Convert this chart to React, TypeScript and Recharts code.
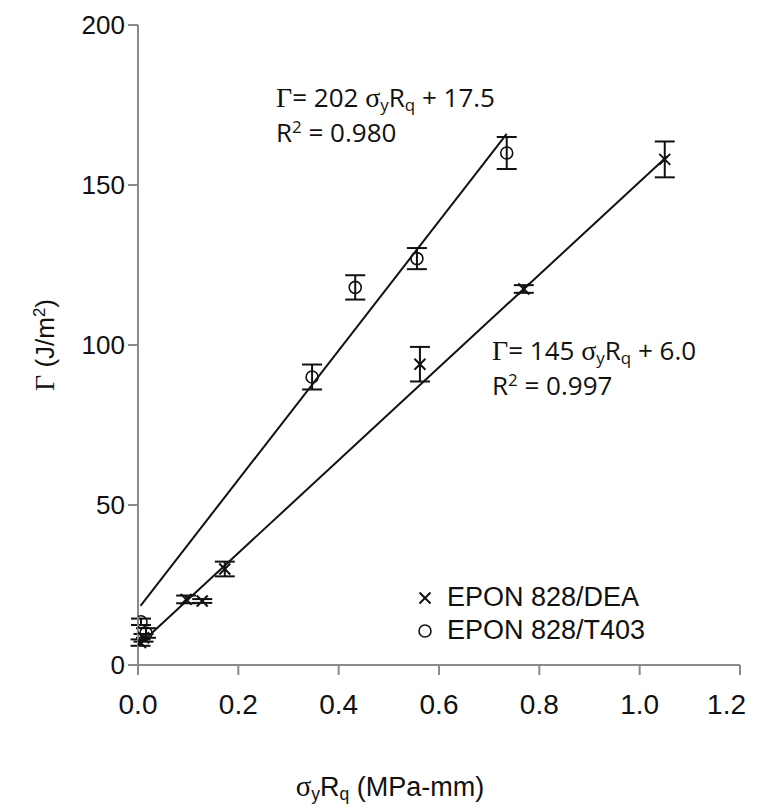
import React from "react";
import {
  ComposedChart,
  Scatter,
  XAxis,
  YAxis,
  ErrorBar,
  ReferenceLine,
} from "recharts";

// EPON 828/DEA (x markers)
const deaX = [0.005, 0.011, 0.096, 0.128, 0.173, 0.562, 0.769, 1.05];
const deaY = [7, 8.5, 20.5, 20, 30, 94, 117.5, 158];
const deaErr = [1, 1.2, 1.2, 0.6, 2.3, 5.4, 1.2, 5.6];

// EPON 828/T403 (open circles)
const t403X = [0.006, 0.016, 0.347, 0.433, 0.556, 0.735];
const t403Y = [13.5, 10, 90, 118, 127, 160];
const t403Err = [1, 1.5, 3.9, 3.8, 3.3, 5];

// linear fits: slope, intercept, x range
const deaFit = { slope: 145, intercept: 6.0, from: 0.005, to: 1.055 };
const t403Fit = { slope: 202, intercept: 17.5, from: 0.005, to: 0.735 };

const xTicks = [0, 0.2, 0.4, 0.6, 0.8, 1.0, 1.2];
const yTicks = [0, 50, 100, 150, 200];

const deaData = deaX.map((x, i) => ({ x, y: deaY[i], err: deaErr[i] }));
const t403Data = t403X.map((x, i) => ({ x, y: t403Y[i], err: t403Err[i] }));

const fitSegment = (f: typeof deaFit) => [
  { x: f.from, y: f.slope * f.from + f.intercept },
  { x: f.to, y: f.slope * f.to + f.intercept },
];

const AXIS = "#8a8a8a";
const SANS = "'Liberation Sans', Arial, sans-serif";
const CAL = "'Open Sans', 'Noto Sans', sans-serif";
const SERIF = "'Liberation Serif', 'Times New Roman', serif";

const Cross = (p: any) => {
  const s = 5.5;
  return (
    <g stroke="#111" strokeWidth={2}>
      <line x1={p.cx - s} y1={p.cy - s} x2={p.cx + s} y2={p.cy + s} />
      <line x1={p.cx - s} y1={p.cy + s} x2={p.cx + s} y2={p.cy - s} />
    </g>
  );
};

const Ring = (p: any) => (
  <circle cx={p.cx} cy={p.cy} r={6} fill="none" stroke="#111" strokeWidth={1.6} />
);

// last label is pulled inward so it stays inside the frame
const XTick = (p: any) => {
  const last = p.payload.value === xTicks[xTicks.length - 1];
  return (
    <text
      x={last ? p.x + 6 : p.x}
      y={p.y}
      dy="0.71em"
      textAnchor={last ? "end" : "middle"}
      fill="#111"
      fontSize={28}
      fontFamily={SANS}
    >
      {p.payload.value.toFixed(1)}
    </text>
  );
};

const sub = { fontSize: "0.65em", verticalAlign: "-0.25em", lineHeight: 1 } as const;
const sup = { fontSize: "0.65em", verticalAlign: "0.55em", lineHeight: 1 } as const;

function Equation({ slope, intercept, r2, left, top }: any) {
  return (
    <div
      style={{
        position: "absolute",
        left,
        top,
        fontFamily: CAL,
        fontSize: 26,
        color: "#111",
        whiteSpace: "nowrap",
      }}
    >
      <div style={{ height: 35, lineHeight: "35px" }}>
        <span style={{ fontFamily: SERIF, fontSize: 28 }}>Γ</span>= {slope}{" "}
        <span style={{ fontFamily: SERIF, fontSize: 28 }}>σ</span>
        <span style={sub}>y</span>R<span style={sub}>q</span> + {intercept}
      </div>
      <div style={{ height: 35, lineHeight: "35px" }}>
        R<span style={sup}>2</span> = {r2}
      </div>
    </div>
  );
}

export default function App() {
  return (
    <div style={{ position: "relative", width: 745, height: 801 }}>
      <ComposedChart
        width={745}
        height={740}
        margin={{ top: 17, right: 13, bottom: 23, left: 70 }}
      >
        <XAxis
          type="number"
          dataKey="x"
          domain={[0, 1.2]}
          ticks={xTicks}
          height={60}
          stroke={AXIS}
          strokeWidth={2}
          tickSize={10}
          tickMargin={19}
          tick={XTick}
          allowDataOverflow
        />
        <YAxis
          type="number"
          dataKey="y"
          domain={[0, 200]}
          ticks={yTicks}
          width={60}
          stroke={AXIS}
          strokeWidth={2}
          tickSize={10}
          tickMargin={3}
          tick={{ fill: "#111", fontSize: 26, fontFamily: SANS }}
        />
        <ReferenceLine
          segment={fitSegment(t403Fit)}
          stroke="#111"
          strokeWidth={2}
          ifOverflow="visible"
        />
        <ReferenceLine
          segment={fitSegment(deaFit)}
          stroke="#111"
          strokeWidth={2}
          ifOverflow="visible"
        />
        <Scatter data={deaData} shape={Cross} isAnimationActive={false}>
          <ErrorBar dataKey="err" direction="y" width={10} stroke="#111" strokeWidth={2} />
        </Scatter>
        <Scatter data={t403Data} shape={Ring} isAnimationActive={false}>
          <ErrorBar dataKey="err" direction="y" width={10} stroke="#111" strokeWidth={2} />
        </Scatter>
      </ComposedChart>

      <Equation slope={202} intercept="17.5" r2="0.980" left={268} top={72} />
      <Equation slope={145} intercept="6.0" r2="0.997" left={484} top={325} />

      <div
        style={{
          position: "absolute",
          left: 405,
          top: 573,
          fontFamily: SANS,
          fontSize: 27,
          lineHeight: "33px",
          color: "#111",
        }}
      >
        <div style={{ display: "flex", alignItems: "center" }}>
          <svg width={34} height={20}>
            <Cross cx={12} cy={10} />
          </svg>
          <span>EPON 828/DEA</span>
        </div>
        <div style={{ display: "flex", alignItems: "center" }}>
          <svg width={34} height={20}>
            <Ring cx={12} cy={10} />
          </svg>
          <span>EPON 828/T403</span>
        </div>
      </div>

      <div
        style={{
          position: "absolute",
          left: 37,
          top: 337,
          transform: "translate(-50%, -50%) rotate(-90deg)",
          fontFamily: SANS,
          fontSize: 26,
          color: "#111",
          whiteSpace: "nowrap",
        }}
      >
        <span style={{ fontFamily: SERIF, fontSize: 28 }}>Γ</span> (J/m
        <span style={sup}>2</span>)
      </div>

      <div
        style={{
          position: "absolute",
          left: 382,
          top: 779,
          transform: "translate(-50%, -50%)",
          fontFamily: SANS,
          fontSize: 27,
          color: "#111",
          whiteSpace: "nowrap",
        }}
      >
        <span style={{ fontFamily: SERIF, fontSize: 29 }}>σ</span>
        <span style={sub}>y</span>R<span style={sub}>q</span> (MPa-mm)
      </div>
    </div>
  );
}
